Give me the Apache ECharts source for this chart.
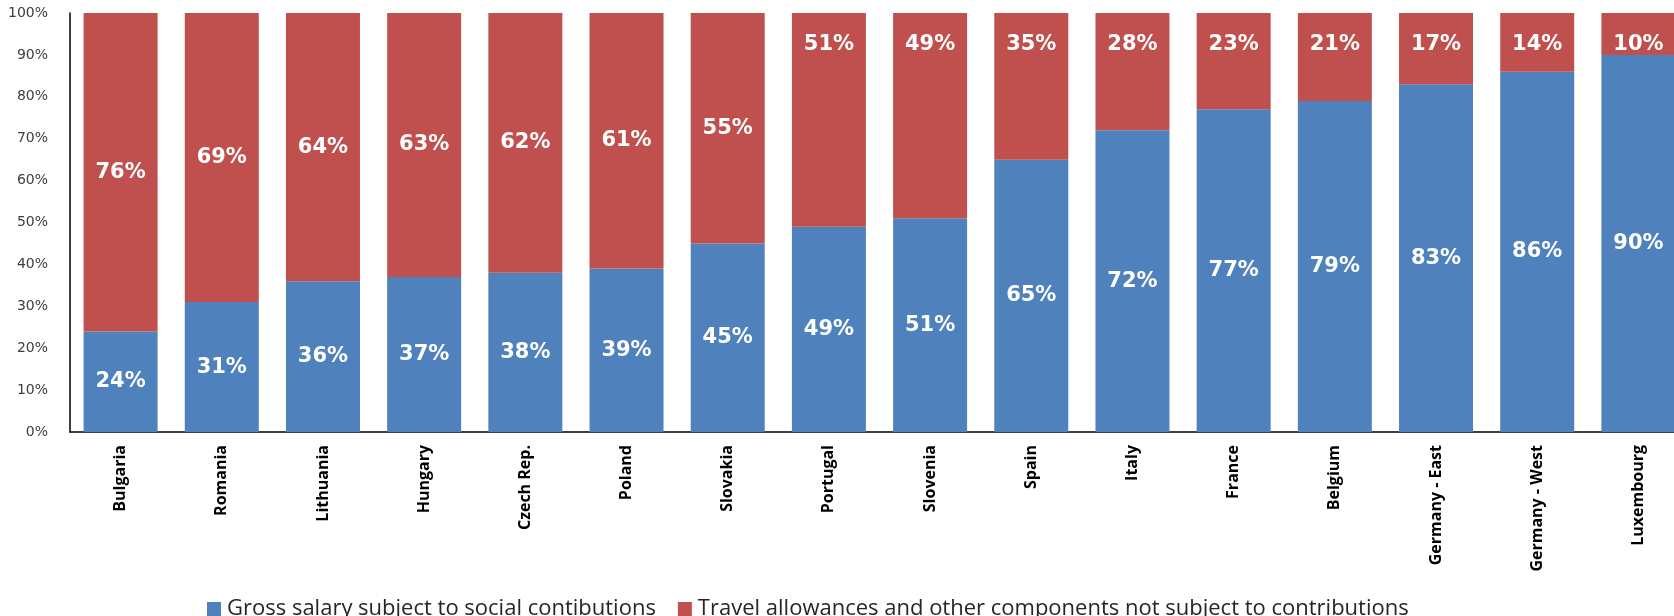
<!DOCTYPE html>
<html><head><meta charset="utf-8">
<script src="https://cdn.jsdelivr.net/npm/echarts@6/dist/echarts.min.js"></script>
<style>html,body{margin:0;padding:0;background:#fff;overflow:hidden;width:1674px;height:616px}#c{width:1690px;height:616px}</style>
</head><body><div id="c"></div>
<script>
const categories = ['Bulgaria','Romania','Lithuania','Hungary','Czech Rep.','Poland','Slovakia','Portugal','Slovenia','Spain','Italy','France','Belgium','Germany - East','Germany - West','Luxembourg'];
const grossSalary = [24,31,36,37,38,39,45,49,51,65,72,77,79,83,86,90];
const travelAllowances = [76,69,64,63,62,61,55,51,49,35,28,23,21,17,14,10];
const yTicks = [0,10,20,30,40,50,60,70,80,90,100];
const seriesNames = ['Gross salary subject to social contibutions','Travel allowances and other components not subject to contributions'];

const labelStyle = {show:true, color:'#fff', fontFamily:'DejaVu Sans', fontWeight:'bold', fontSize:21, formatter:'{c}%'};
const chart = echarts.init(document.getElementById('c'));
chart.setOption({
  animation:false,
  grid:{left:70, top:13, right:1, bottom:184, containLabel:false},
  legend:{
    left:202, top:593, itemWidth:14, itemHeight:14, itemGap:22, icon:'rect',
    textStyle:{fontFamily:'Open Sans', fontSize:22, color:'#262626', padding:[0,0,0,1]},
    data:seriesNames
  },
  xAxis:{
    type:'category', data:categories,
    axisLine:{lineStyle:{color:'#000', width:1.5}},
    axisTick:{show:false},
    axisLabel:{rotate:90, margin:13, interval:0, color:'#000', fontFamily:'Open Sans', fontWeight:'bold', fontSize:16}
  },
  yAxis:{
    type:'value', min:yTicks[0], max:yTicks[yTicks.length-1], interval:yTicks[1]-yTicks[0],
    axisLine:{show:true, lineStyle:{color:'#000', width:1.5}},
    axisTick:{show:false},
    splitLine:{show:false},
    axisLabel:{formatter:'{value}%', margin:22, color:'#404040', fontFamily:'DejaVu Sans', fontSize:14}
  },
  series:[
    {name:seriesNames[0], type:'bar', stack:'t', barWidth:74, data:grossSalary,
     itemStyle:{color:'#4F81BD'}, label:Object.assign({position:'inside'}, labelStyle)},
    {name:seriesNames[1], type:'bar', stack:'t', barWidth:74,
     data:travelAllowances.map((v,i)=> i>=7 ? {value:v, label:{position:'insideTop', distance:21}} : v),
     itemStyle:{color:'#C0504D'}, label:Object.assign({position:'inside'}, labelStyle)}
  ]
});
</script></body></html>
